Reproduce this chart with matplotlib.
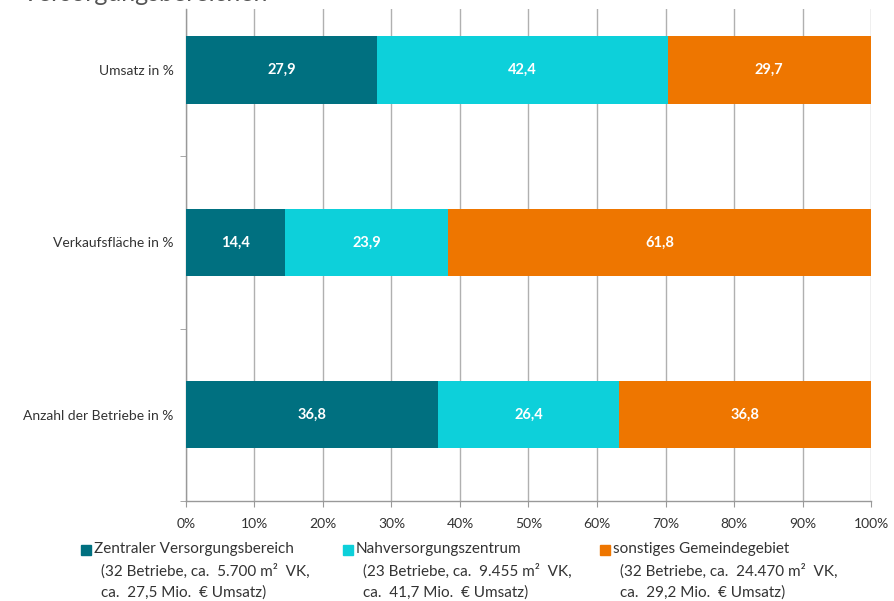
import matplotlib.pyplot as plt
from matplotlib.patches import Rectangle

# Kategorien (von unten nach oben) und Anteile in %
categories = ['Anzahl der Betriebe in %', 'Verkaufsfläche in %', 'Umsatz in %']
zvb = [36.8, 14.4, 27.9]
nvz = [26.4, 23.9, 42.4]
sonst = [36.8, 61.8, 29.7]

series_names = ['Zentraler Versorgungsbereich', 'Nahversorgungszentrum', 'sonstiges Gemeindegebiet']
series_details = [
    ['(32 Betriebe, ca.  5.700 m²  VK,', 'ca.  27,5 Mio.  € Umsatz)'],
    ['(23 Betriebe, ca.  9.455 m²  VK,', 'ca.  41,7 Mio.  € Umsatz)'],
    ['(32 Betriebe, ca.  24.470 m²  VK,', 'ca.  29,2 Mio.  € Umsatz)'],
]
colors = ['#007080', '#0dd0da', '#ee7600']
x_ticks = [0, 10, 20, 30, 40, 50, 60, 70, 80, 90, 100]

plt.rcParams['font.family'] = ['Lato', 'DejaVu Sans']

fig = plt.figure(figsize=(8.95, 6.01), dpi=100)
ax = fig.add_axes([0.2078, 0.1664, 0.7654, 0.8186])

ypos = list(range(len(categories)))
left = [0.0] * len(categories)
for values, color in zip([zvb, nvz, sonst], colors):
    ax.barh(ypos, values, left=left, height=0.39, color=color, zorder=3)
    for y, l, v in zip(ypos, left, values):
        ax.text(l + v / 2, y, f'{v:.1f}'.replace('.', ','), ha='center', va='center',
                color='white', fontsize=10.5, fontweight='bold', zorder=4)
    left = [a + b for a, b in zip(left, values)]

ax.set_xlim(0, 100)
ax.set_ylim(-0.5, 2.354)
ax.set_xticks(x_ticks)
ax.set_xticklabels([f'{t}%' for t in x_ticks], fontsize=10, color='#333333')
ax.set_yticks(ypos)
ax.set_yticklabels(categories, fontsize=10, color='#333333')
ax.tick_params(axis='y', which='major', length=0, pad=9)
ax.set_yticks([-0.5, 0.5, 1.5], minor=True)
ax.tick_params(axis='y', which='minor', length=4, color='#999999', direction='out')
ax.tick_params(axis='x', length=4, color='#999999', direction='out', pad=8)

ax.grid(axis='x', color='#b0b0b0', linewidth=1, zorder=0)
for side in ['top', 'right']:
    ax.spines[side].set_visible(False)
for side in ['left', 'bottom']:
    ax.spines[side].set_color('#999999')
    ax.spines[side].set_linewidth(1)

# Titel ist am oberen Rand angeschnitten
fig.text(22 / 895, 1.0 - 1 / 601, 'Versorgungsbereichen', fontsize=18, color='#555555',
         ha='left', va='baseline')

# Legende unterhalb des Diagramms
legend_x = [81, 343, 600]
for x0, name, details, color in zip(legend_x, series_names, series_details, colors):
    fig.patches.append(Rectangle((x0 / 895, (601 - 555) / 601), 10 / 895, 10 / 601,
                                 transform=fig.transFigure, color=color))
    fig.text((x0 + 13) / 895, (601 - 549) / 601, name, fontsize=11, color='#333333',
             va='center', ha='left')
    for k, line in enumerate(details):
        fig.text((x0 + 20) / 895, (601 - 571 - 22 * k) / 601, line, fontsize=11,
                 color='#333333', va='center', ha='left')

fig.savefig('out.png', dpi=100)
